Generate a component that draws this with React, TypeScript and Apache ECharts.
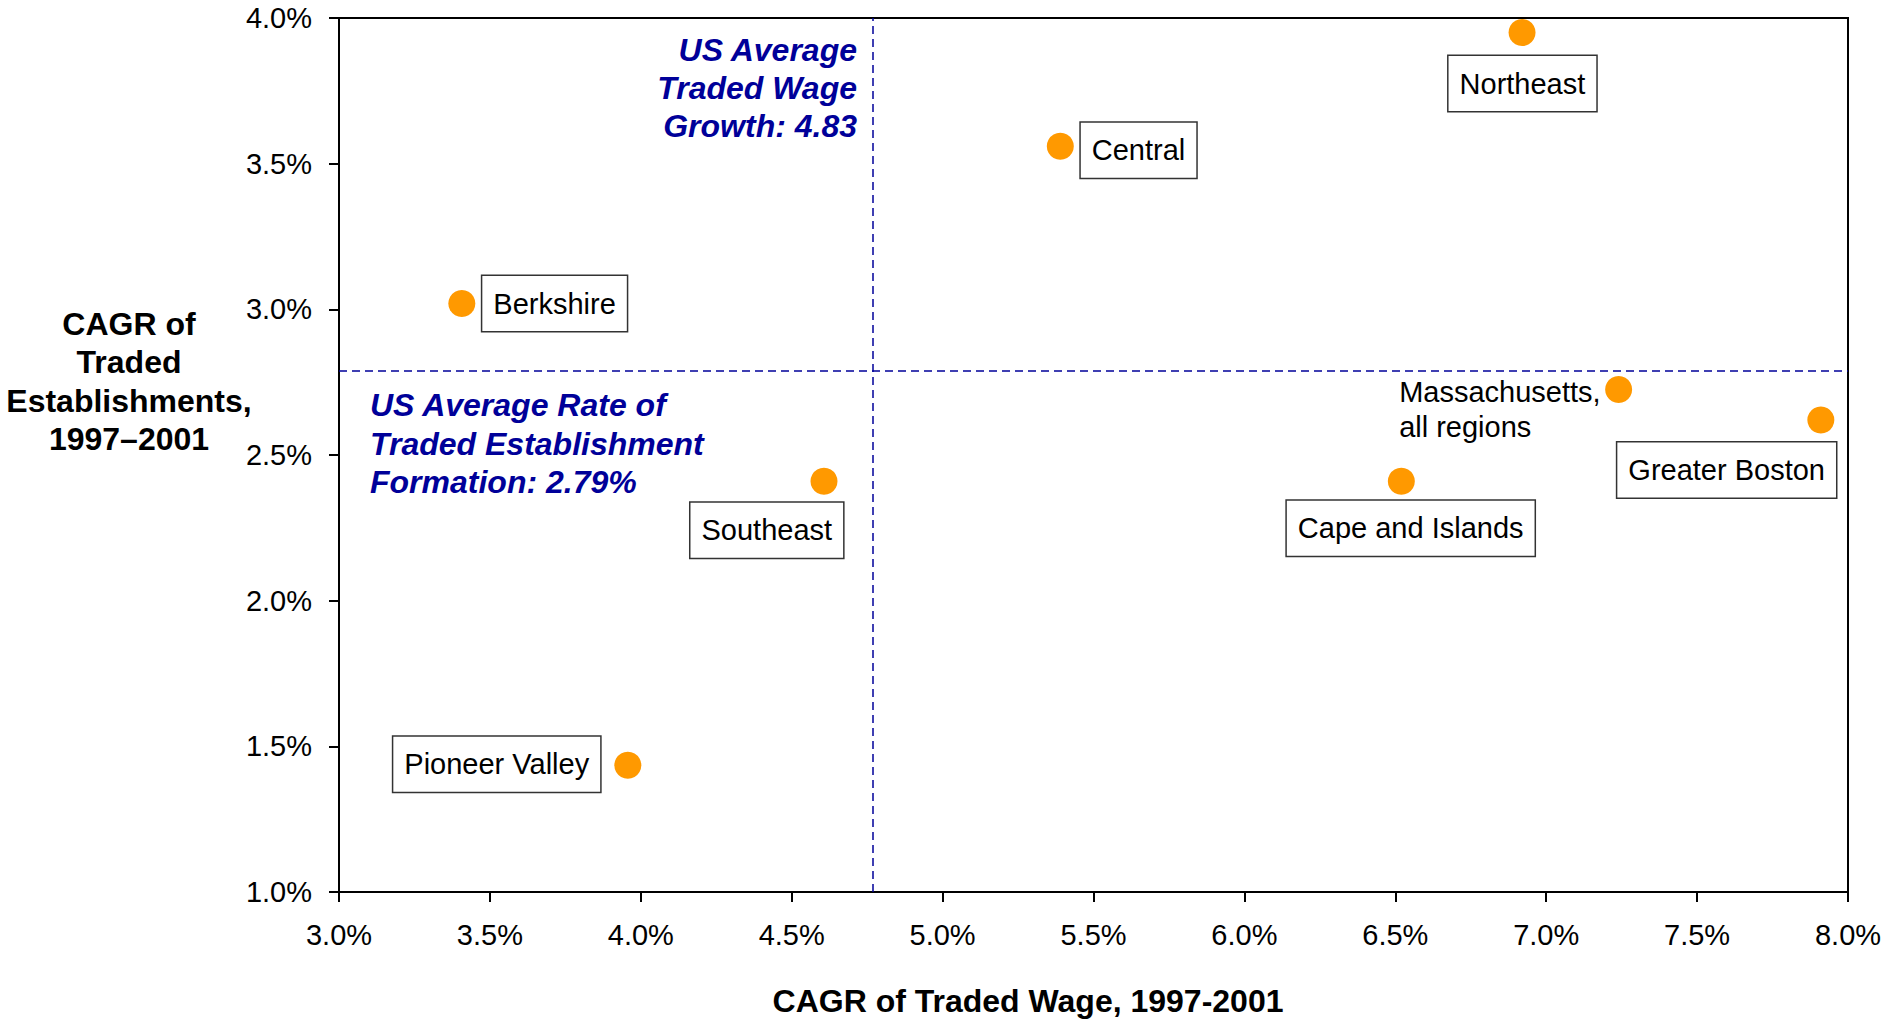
import React, { useEffect, useRef } from "react";
import * as echarts from "echarts";

// ---- Data ----
const regions = [
  "Northeast",
  "Central",
  "Berkshire",
  "Southeast",
  "Pioneer Valley",
  "Cape and Islands",
  "Greater Boston",
  "Massachusetts,\nall regions",
];
const wageCagr = [6.92, 5.39, 3.407, 4.607, 3.957, 6.52, 7.91, 7.24];
const estabCagr = [3.95, 3.56, 3.02, 2.41, 1.435, 2.41, 2.62, 2.725];
const boxed = [true, true, true, true, true, true, true, false];

const usWageLine = 4.77;
const usEstabLine = 2.79;

const xTitle = "CAGR of Traded Wage, 1997-2001";
const yTitle = "CAGR of\nTraded\nEstablishments,\n1997–2001";
const wageNote = "US Average\nTraded Wage\nGrowth: 4.83";
const estabNote = "US Average Rate of\nTraded Establishment\nFormation: 2.79%";

// label placement relative to the symbol's bounding box (styling, not data)
const labelOffsets = [
  [-60, 37],
  [34, -10],
  [34, -14],
  [-120, 35],
  [-221, -15],
  [-101, 33],
  [-190, 36],
  [-206, -1],
];

const FONT = '"Liberation Sans", Arial, Helvetica, sans-serif';
const NAVY = "#000099";

export default function App() {
  const ref = useRef<HTMLDivElement>(null);

  useEffect(() => {
    if (!ref.current) return;
    const chart = echarts.init(ref.current, null, { renderer: "svg" });

    const data = regions.map((name, i) => ({
      name,
      value: [wageCagr[i], estabCagr[i]],
      label: boxed[i]
        ? {
            show: true,
            position: labelOffsets[i],
            formatter: name,
            fontFamily: FONT,
            fontSize: 29,
            lineHeight: 33,
            color: "#000",
            backgroundColor: "#fff",
            borderColor: "#333",
            borderWidth: 1.5,
            padding: [11, 11],
            align: "left",
            verticalAlign: "top",
          }
        : {
            show: true,
            position: labelOffsets[i],
            formatter: name,
            fontFamily: FONT,
            fontSize: 29,
            lineHeight: 35,
            color: "#000",
            align: "left",
            verticalAlign: "top",
          },
    }));

    const pct = (v: number) => v.toFixed(1) + "%";

    chart.setOption({
      animation: false,
      backgroundColor: "#fff",
      grid: {
        left: 339,
        right: 42,
        top: 18,
        bottom: 128,
        show: true,
        borderColor: "#000",
        borderWidth: 2,
        backgroundColor: "transparent",
      },
      xAxis: {
        type: "value",
        min: 3,
        max: 8,
        interval: 0.5,
        axisLine: { show: true, lineStyle: { color: "#000", width: 2 } },
        axisTick: { show: true, length: 10, lineStyle: { color: "#000", width: 2 } },
        splitLine: { show: false },
        axisLabel: {
          formatter: pct,
          fontFamily: FONT,
          fontSize: 29,
          color: "#000",
          margin: 28,
        },
      },
      yAxis: {
        type: "value",
        min: 1,
        max: 4,
        interval: 0.5,
        axisLine: { show: true, lineStyle: { color: "#000", width: 2 } },
        axisTick: { show: true, length: 10, lineStyle: { color: "#000", width: 2 } },
        splitLine: { show: false },
        axisLabel: {
          formatter: pct,
          fontFamily: FONT,
          fontSize: 29,
          color: "#000",
          margin: 27,
        },
      },
      series: [
        {
          type: "scatter",
          symbol: "circle",
          symbolSize: 27,
          itemStyle: { color: "#ff9900", opacity: 1 },
          data,
          z: 3,
          markLine: {
            silent: true,
            symbol: ["none", "none"],
            label: { show: false },
            lineStyle: { color: NAVY, width: 1.5, type: [8, 5], opacity: 1 },
            data: [{ xAxis: usWageLine }, { yAxis: usEstabLine }],
            z: 1,
          },
        },
      ],
      graphic: [
        {
          type: "text",
          x: 857,
          y: 31,
          style: {
            text: wageNote,
            align: "right",
            verticalAlign: "top",
            font: `italic bold 32px ${FONT}`,
            lineHeight: 38,
            fill: NAVY,
          },
        },
        {
          type: "text",
          x: 370,
          y: 386,
          style: {
            text: estabNote,
            align: "left",
            verticalAlign: "top",
            font: `italic bold 32px ${FONT}`,
            lineHeight: 38.5,
            fill: NAVY,
          },
        },
        {
          type: "text",
          x: 129,
          y: 305,
          style: {
            text: yTitle,
            align: "center",
            verticalAlign: "top",
            font: `bold 32px ${FONT}`,
            lineHeight: 38.3,
            fill: "#000",
          },
        },
        {
          type: "text",
          x: 1028,
          y: 984,
          style: {
            text: xTitle,
            align: "center",
            verticalAlign: "top",
            font: `bold 32px ${FONT}`,
            lineHeight: 34,
            fill: "#000",
          },
        },
      ],
    });

    return () => chart.dispose();
  }, []);

  return (
    <div
      ref={ref}
      style={{ position: "fixed", left: 0, top: 0, width: 1890, height: 1020, background: "#fff" }}
    />
  );
}
